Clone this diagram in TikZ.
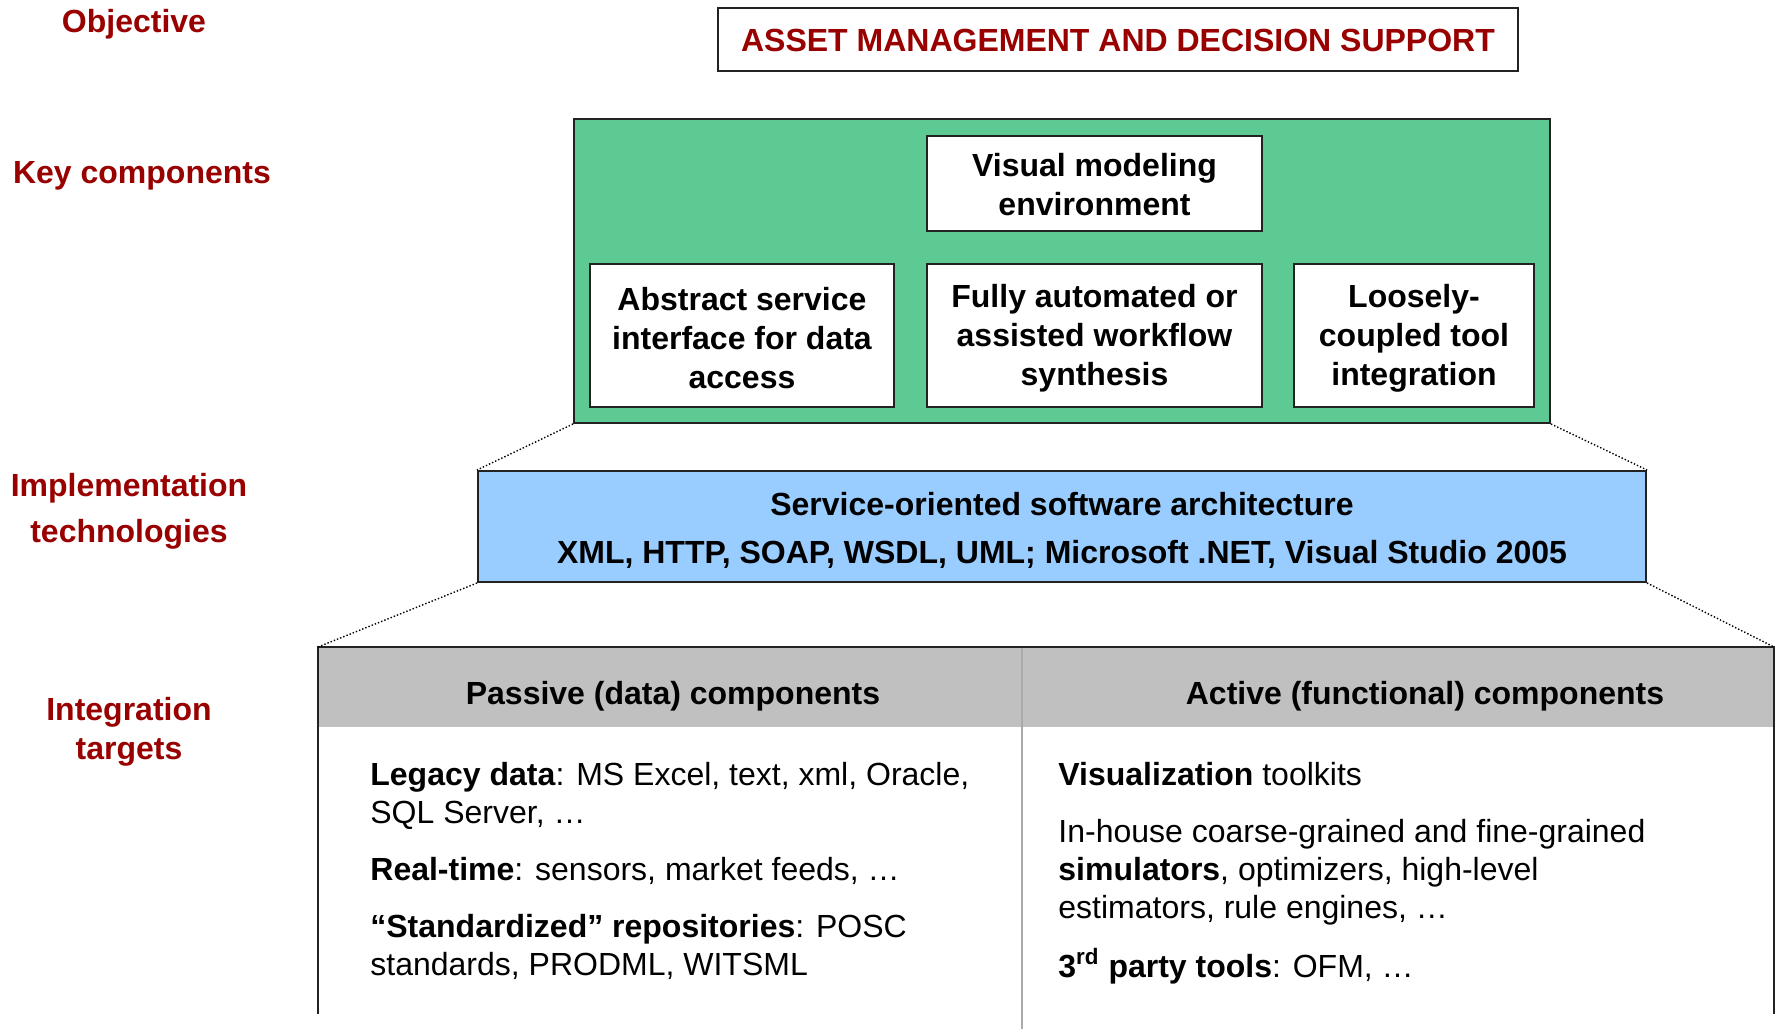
\documentclass[tikz,border=0pt]{standalone}
\usepackage{fontspec}
\setmainfont{Liberation Sans}
\usetikzlibrary{fit}
\definecolor{deepred}{RGB}{153,0,0}
\definecolor{keygreen}{RGB}{92,202,146}
\definecolor{techblue}{RGB}{153,204,255}
\definecolor{headgray}{RGB}{192,192,192}
\definecolor{edge}{RGB}{34,34,34}
\definecolor{splitgray}{RGB}{170,170,170}
\begin{document}
\begin{tikzpicture}[x=0.5pt,y=-0.5pt,
  lbl/.style={font=\fontsize{16}{19.5}\selectfont\bfseries, text=deepred, align=center, inner sep=0, anchor=base},
  frame/.style={draw=edge, line width=1pt, inner sep=0},
  keybox/.style={frame, fill=white},
  boxtxt/.style={font=\fontsize{16}{19.5}\selectfont\bfseries, align=center, inner sep=0},
  body/.style={font=\fontsize{16}{19}\selectfont, align=left, anchor=base west, inner sep=0},
  zoomline/.style={draw=black, line width=0.7pt, dash pattern=on 0.7pt off 1pt}
]
\useasboundingbox (0,0) rectangle (1776,1029);

% row labels (multi-line nodes are placed by the baseline of their last line)
\node[lbl] (lobj) at (134,32) {Objective};
\node[lbl] (lkey) at (142,183) {Key components};
\node[lbl, font=\fontsize{16}{23}\selectfont\bfseries] (limpl) at (129,542) {Implementation\\technologies};
\node[lbl] (lint) at (129,759) {Integration\\targets};

% objective
\node[frame, fit={(718,8) (1518,71)}] (obj) {};
\node[boxtxt, text=deepred, anchor=base] (objtxt) at (1118,51) {ASSET MANAGEMENT AND DECISION SUPPORT};

% key components
\node[frame, fill=keygreen, fit={(574,119) (1550,423)}] (keys) {};
\node[keybox, fit={(927,136) (1262,231)}] (visual) {};
\node[boxtxt] (visualtxt) at ([yshift=-0.5pt]visual.center) {Visual modeling\\environment};
\node[keybox, fit={(590,264) (894,407)}] (abstract) {};
\node[boxtxt] (abstracttxt) at ([yshift=-1.5pt]abstract.center) {Abstract service\\interface for data\\access};
\node[keybox, fit={(927,264) (1262,407)}] (workflow) {};
\node[boxtxt] (workflowtxt) at ([yshift=-1.5pt]workflow.center) {Fully automated or\\assisted workflow\\synthesis};
\node[keybox, fit={(1294,264) (1534,407)}] (coupled) {};
\node[boxtxt] (coupledtxt) at ([yshift=-1.5pt]coupled.center) {Loosely-\\coupled tool\\integration};

% implementation technologies
\node[frame, fill=techblue, fit={(478,471) (1646,582)}] (tech) {};
\node[boxtxt, font=\fontsize{16}{24}\selectfont\bfseries, anchor=base] (techtxt) at (1062,563) {Service-oriented software architecture\\XML, HTTP, SOAP, WSDL, UML; Microsoft .NET, Visual Studio 2005};

% integration targets table
\node[fill=headgray, inner sep=0, fit={(318,647) (1774,727)}] (head) {};
\coordinate (tblnw) at (318,647);
\coordinate (tblne) at (1774,647);
\coordinate (tblsw) at (318,1014);
\coordinate (tblse) at (1774,1014);
\coordinate (splittop) at (1022,647);
\coordinate (splitbot) at (1022,1029);
\draw[splitgray, line width=1pt] (splittop) -- (splitbot);
\draw[edge, line width=1.2pt] (tblsw) -- (tblnw) -- (tblne) -- (tblse);
\node[boxtxt, anchor=base] (passivehd) at (673,704) {Passive (data) components};
\node[boxtxt, anchor=base] (activehd) at (1425,704) {Active (functional) components};

\node[body] (legacy) at (370,823) {\textbf{Legacy data}: MS Excel, text, xml, Oracle,\\SQL Server, …};
\node[body] (realtime) at (370,880) {\textbf{Real-time}: sensors, market feeds, …};
\node[body] (repos) at (370,975) {\textbf{“Standardized” repositories}: POSC\\standards, PRODML, WITSML};

\node[body] (visual2) at (1058,785) {\textbf{Visualization} toolkits};
\node[body] (inhouse) at (1058,918) {In-house coarse-grained and fine-grained\\\textbf{simulators}, optimizers, high-level\\estimators, rule engines, …};
\node[body] (third) at (1058,977) {\textbf{3\textsuperscript{rd} party tools}: OFM, …};

% zoom-out guides between layers
\draw[zoomline] (keys.south west) -- (tech.north west);
\draw[zoomline] (keys.south east) -- (tech.north east);
\draw[zoomline] (tech.south west) -- (tblnw);
\draw[zoomline] (tech.south east) -- (tblne);
\end{tikzpicture}
\end{document}
